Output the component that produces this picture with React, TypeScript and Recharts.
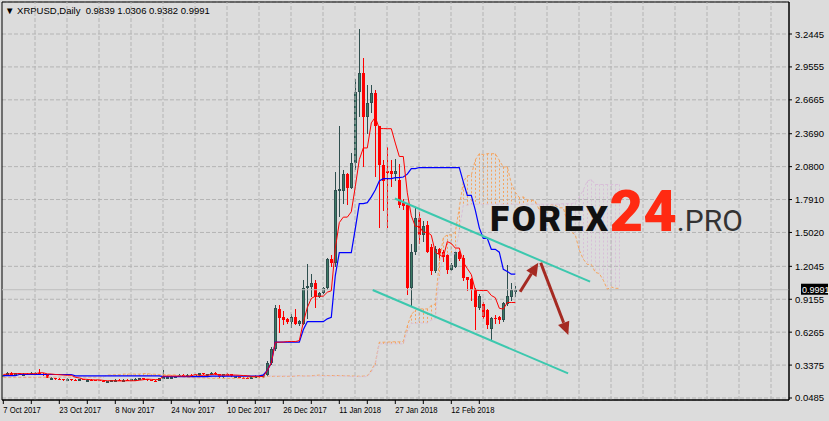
import React from 'react';
import { ComposedChart, Bar, Line, XAxis, YAxis, CartesianGrid, ReferenceLine, ReferenceArea } from 'recharts';

// daily bars, index 0 = 7 Oct 2017 (broker has 6 bars a week)
const opens = [
  0.245, 0.245, 0.272, 0.243, 0.265, 0.258, 0.262, 0.254, 0.266, 0.272,
  0.262, 0.25, 0.225, 0.225, 0.214, 0.214, 0.205, 0.215, 0.21, 0.208,
  0.212, 0.208, 0.21, 0.206, 0.204, 0.2, 0.193, 0.196, 0.205, 0.209,
  0.206, 0.21, 0.208, 0.212, 0.218, 0.224, 0.214, 0.205, 0.2, 0.198,
  0.222, 0.232, 0.234, 0.236, 0.238, 0.252, 0.25, 0.254, 0.248, 0.25,
  0.264, 0.256, 0.256, 0.27, 0.255, 0.23, 0.26, 0.255, 0.238, 0.24,
  0.228, 0.222, 0.218, 0.24, 0.244, 0.23, 0.248, 0.353, 0.476, 0.83,
  0.757, 0.74, 0.718, 0.757, 0.695, 0.7, 1.01, 1.026, 1.061, 0.938,
  0.968, 1.012, 1.269, 1.231, 1.875, 1.87, 2.015, 1.895, 2.109, 2.738,
  2.899, 2.513, 2.636, 2.729, 2.437, 2.094, 2.044, 2.04, 2.015, 1.963,
  1.763, 1.743, 1.01, 1.333, 1.626, 1.48, 1.567, 1.37, 1.166, 1.354,
  1.333, 1.304, 1.172, 1.2, 1.333, 1.28, 1.108, 1.09, 1.0, 0.836,
  0.874, 0.821, 0.65, 0.75, 0.757, 0.733, 0.874, 0.937, 0.9839,
];
const highs = [
  0.25, 0.275, 0.28, 0.268, 0.27, 0.268, 0.266, 0.275, 0.275, 0.3,
  0.266, 0.252, 0.232, 0.228, 0.22, 0.218, 0.22, 0.218, 0.216, 0.216,
  0.216, 0.214, 0.214, 0.21, 0.21, 0.205, 0.2, 0.21, 0.212, 0.214,
  0.213, 0.216, 0.214, 0.22, 0.226, 0.228, 0.218, 0.21, 0.206, 0.226,
  0.29, 0.238, 0.24, 0.242, 0.256, 0.258, 0.258, 0.26, 0.256, 0.268,
  0.268, 0.262, 0.275, 0.276, 0.262, 0.262, 0.265, 0.26, 0.245, 0.244,
  0.236, 0.23, 0.246, 0.248, 0.25, 0.252, 0.37, 0.5, 0.865, 0.862,
  0.81, 0.75, 0.786, 0.83, 0.735, 1.084, 1.225, 1.137, 1.084, 0.975,
  1.025, 1.275, 1.3, 2.035, 2.437, 2.05, 2.025, 2.2, 2.85, 3.288,
  3.036, 2.8, 2.8, 2.75, 2.44, 2.14, 2.255, 2.14, 2.15, 2.1,
  1.8, 1.76, 1.4, 1.714, 1.68, 1.6, 1.6, 1.4, 1.38, 1.365,
  1.345, 1.31, 1.23, 1.34, 1.34, 1.3, 1.115, 1.1, 1.012, 0.96,
  0.89, 0.83, 0.76, 0.78, 0.77, 0.89, 1.216, 1.06, 1.0306,
];
const lows = [
  0.24, 0.243, 0.24, 0.24, 0.255, 0.255, 0.25, 0.25, 0.262, 0.25,
  0.245, 0.22, 0.218, 0.21, 0.206, 0.2, 0.196, 0.2, 0.205, 0.2,
  0.205, 0.202, 0.204, 0.2, 0.195, 0.188, 0.183, 0.19, 0.2, 0.203,
  0.202, 0.204, 0.2, 0.205, 0.212, 0.21, 0.2, 0.196, 0.192, 0.196,
  0.22, 0.226, 0.228, 0.23, 0.234, 0.246, 0.244, 0.246, 0.242, 0.246,
  0.252, 0.248, 0.252, 0.25, 0.225, 0.225, 0.24, 0.235, 0.232, 0.22,
  0.215, 0.212, 0.214, 0.236, 0.226, 0.222, 0.24, 0.34, 0.46, 0.62,
  0.69, 0.7, 0.66, 0.69, 0.68, 0.69, 0.74, 0.938, 0.836, 0.93,
  0.96, 0.995, 1.2, 1.2, 1.64, 1.75, 1.74, 1.88, 2.05, 2.518,
  2.08, 2.37, 2.55, 1.99, 1.54, 1.69, 1.538, 1.9, 1.95, 1.72,
  1.7, 0.95, 0.856, 1.3, 1.4, 1.42, 1.32, 1.13, 1.15, 1.25,
  1.24, 1.14, 1.16, 1.19, 1.25, 1.08, 0.99, 0.9, 0.645, 0.82,
  0.74, 0.65, 0.558, 0.7, 0.7, 0.72, 0.86, 0.9, 0.9382,
];
const closes = [
  0.248, 0.272, 0.243, 0.265, 0.258, 0.262, 0.254, 0.27, 0.272, 0.255,
  0.25, 0.225, 0.228, 0.214, 0.21, 0.205, 0.215, 0.205, 0.208, 0.212,
  0.208, 0.21, 0.206, 0.204, 0.2, 0.193, 0.196, 0.205, 0.209, 0.206,
  0.21, 0.208, 0.212, 0.218, 0.224, 0.214, 0.205, 0.2, 0.198, 0.222,
  0.232, 0.234, 0.236, 0.238, 0.252, 0.25, 0.254, 0.248, 0.252, 0.264,
  0.256, 0.258, 0.27, 0.255, 0.23, 0.26, 0.244, 0.238, 0.24, 0.225,
  0.218, 0.219, 0.24, 0.244, 0.23, 0.248, 0.353, 0.476, 0.839, 0.753,
  0.733, 0.718, 0.757, 0.695, 0.725, 1.012, 1.032, 1.056, 0.938, 0.968,
  1.017, 1.269, 1.231, 1.875, 1.885, 2.015, 1.895, 2.109, 2.738, 2.899,
  2.513, 2.636, 2.729, 2.437, 2.09, 1.954, 2.021, 2.015, 2.044, 1.743,
  1.734, 1.01, 1.333, 1.626, 1.48, 1.56, 1.333, 1.16, 1.354, 1.313,
  1.284, 1.172, 1.216, 1.333, 1.266, 1.099, 1.084, 1.0, 0.85, 0.944,
  0.762, 0.69, 0.748, 0.74, 0.733, 0.88, 0.944, 0.997, 0.9991,
];

// Ichimoku lines
const tenkan = [
  0.255, 0.258, 0.26, 0.262, 0.262, 0.262, 0.262, 0.262, 0.262, 0.27,
  0.27, 0.26, 0.259, 0.255, 0.253, 0.25, 0.248, 0.248, 0.231, 0.224,
  0.214, 0.212, 0.208, 0.208, 0.2075, 0.203, 0.2, 0.2, 0.2, 0.1985,
  0.1985, 0.2, 0.2, 0.2, 0.205, 0.209, 0.214, 0.212, 0.21, 0.21,
  0.241, 0.241, 0.241, 0.241, 0.241, 0.241, 0.241, 0.243, 0.255, 0.247,
  0.248, 0.249, 0.2545, 0.258, 0.25, 0.25, 0.25, 0.25, 0.25, 0.248,
  0.2455, 0.244, 0.2385, 0.2385, 0.2385, 0.236, 0.291, 0.356, 0.5385, 0.5385,
  0.54, 0.5435, 0.5455, 0.5435, 0.5525, 0.712, 0.8425, 0.9225, 0.9425, 0.9425,
  0.9425, 0.9775, 0.99, 1.3625, 1.5885, 1.6365, 1.6365, 1.6835, 1.905, 2.1415,
  2.244, 2.244, 2.464, 2.514, 2.414, 2.414, 2.413, 2.413, 2.287, 2.169,
  2.169, 1.85, 1.648, 1.5555, 1.5555, 1.503, 1.503, 1.478, 1.328, 1.308,
  1.285, 1.422, 1.405, 1.365, 1.365, 1.24, 1.185, 1.1325, 0.995, 0.9925,
  0.9925, 0.9925, 0.949, 0.929, 0.8365, 0.829, 0.887, 0.887, 0.887,
];
const kijun = [
  0.245, 0.245, 0.245, 0.245, 0.255, 0.255, 0.255, 0.255, 0.255, 0.255,
  0.255, 0.255, 0.255, 0.255, 0.255, 0.255, 0.255, 0.255, 0.243, 0.243,
  0.243, 0.243, 0.243, 0.243, 0.243, 0.243, 0.243, 0.243, 0.243, 0.243,
  0.243, 0.243, 0.243, 0.243, 0.243, 0.243, 0.243, 0.243, 0.243, 0.243,
  0.2365, 0.2365, 0.2365, 0.2365, 0.2365, 0.2365, 0.2365, 0.2365, 0.2365, 0.2365,
  0.2365, 0.2365, 0.24, 0.241, 0.241, 0.241, 0.241, 0.241, 0.241, 0.241,
  0.241, 0.241, 0.241, 0.241, 0.243, 0.251, 0.291, 0.356, 0.5385, 0.5385,
  0.5385, 0.5385, 0.5385, 0.5385, 0.5385, 0.648, 0.7185, 0.7185, 0.7185, 0.7185,
  0.7185, 0.7435, 0.756, 1.1235, 1.3245, 1.3245, 1.3245, 1.3245, 1.536, 1.755,
  1.755, 1.764, 1.814, 1.874, 1.954, 1.974, 1.974, 1.974, 1.984, 1.984,
  1.989, 2.014, 2.062, 2.062, 2.072, 2.072, 2.072, 2.072, 2.072, 2.072,
  2.072, 2.072, 2.072, 2.072, 2.072, 1.946, 1.828, 1.828, 1.6975, 1.5425,
  1.45, 1.45, 1.354, 1.354, 1.329, 1.179, 1.159, 1.136, 1.136,
];
// cloud runs 26 bars ahead of the last candle
const spanA = [
  0.228, 0.228, 0.228, 0.228, 0.228, 0.228, 0.228, 0.228, 0.228, 0.228,
  0.228, 0.228, 0.228, 0.232, 0.232, 0.232, 0.232, 0.232, 0.232, 0.232,
  0.232, 0.232, 0.232, 0.232, 0.232, 0.232, 0.25, 0.2515, 0.2525, 0.2535,
  0.2585, 0.2585, 0.2585, 0.2585, 0.2585, 0.2625, 0.2625, 0.2575, 0.257, 0.255,
  0.254, 0.2525, 0.2515, 0.2515, 0.237, 0.2335, 0.2285, 0.2275, 0.2255, 0.2255,
  0.2253, 0.223, 0.2215, 0.2215, 0.2215, 0.2208, 0.2208, 0.2215, 0.2215, 0.2215,
  0.224, 0.226, 0.2285, 0.2275, 0.2265, 0.2265, 0.2388, 0.2388, 0.2388, 0.2388,
  0.2388, 0.2388, 0.2388, 0.2398, 0.2458, 0.2418, 0.2423, 0.2428, 0.2473, 0.2495,
  0.2455, 0.2455, 0.2455, 0.2455, 0.2455, 0.2445, 0.2433, 0.2425, 0.2398, 0.2398,
  0.2408, 0.2435, 0.291, 0.356, 0.5385, 0.5385, 0.5393, 0.541, 0.542, 0.541,
  0.5455, 0.68, 0.7805, 0.8205, 0.8305, 0.8305, 0.8305, 0.8605, 0.873, 1.243,
  1.4565, 1.4805, 1.4805, 1.504, 1.7205, 1.9483, 1.9995, 2.004, 2.139, 2.194,
  2.184, 2.194, 2.1935, 2.1935, 2.1355, 2.0765, 2.079, 1.932, 1.855, 1.8088,
  1.8138, 1.7875, 1.7875, 1.775, 1.7, 1.69, 1.6785, 1.747, 1.7385, 1.7185,
  1.7185, 1.593, 1.5065, 1.4803, 1.3463, 1.2675, 1.2213, 1.2213, 1.1515, 1.1415,
  1.0828, 1.004, 1.023, 1.0115, 1.0115,
];
const spanB = [
  0.235, 0.235, 0.235, 0.235, 0.235, 0.235, 0.235, 0.235, 0.235, 0.235,
  0.235, 0.235, 0.235, 0.235, 0.235, 0.235, 0.235, 0.235, 0.235, 0.235,
  0.235, 0.235, 0.235, 0.235, 0.235, 0.235, 0.2415, 0.2415, 0.2415, 0.2415,
  0.2415, 0.2415, 0.2415, 0.2415, 0.2415, 0.2415, 0.2415, 0.2415, 0.2415, 0.2415,
  0.2415, 0.2415, 0.2415, 0.2415, 0.2415, 0.2415, 0.2415, 0.2415, 0.2415, 0.2415,
  0.2415, 0.2415, 0.2415, 0.2415, 0.2415, 0.2415, 0.2415, 0.2415, 0.2415, 0.2415,
  0.2415, 0.2415, 0.2415, 0.2415, 0.2415, 0.2415, 0.2415, 0.2415, 0.2415, 0.2415,
  0.2415, 0.2415, 0.2415, 0.2415, 0.2415, 0.2415, 0.2415, 0.2415, 0.2415, 0.2415,
  0.2415, 0.2415, 0.2415, 0.2415, 0.2415, 0.2415, 0.2415, 0.2365, 0.2365, 0.2365,
  0.2365, 0.2365, 0.2765, 0.3415, 0.524, 0.524, 0.524, 0.524, 0.524, 0.524,
  0.524, 0.6335, 0.704, 0.704, 0.7075, 0.7075, 0.7075, 0.7325, 0.745, 1.1125,
  1.3135, 1.3135, 1.3135, 1.3145, 1.521, 1.74, 1.742, 1.75, 1.75, 1.75,
  1.75, 1.75, 1.75, 1.75, 1.75, 1.75, 1.75, 1.75, 1.75, 1.75,
  1.75, 1.75, 1.75, 1.75, 1.75, 1.75, 1.75, 1.75, 1.75, 1.751,
  1.755, 1.755, 1.755, 1.764, 1.814, 1.874, 1.954, 1.9665, 1.923, 1.923,
  1.923, 1.923, 1.923, 1.923, 1.923,
];

const priceTicks = [0.0485, 0.3375, 0.6265, 0.9155, 1.2045, 1.502, 1.791, 2.08, 2.369, 2.6665, 2.9555, 3.2445];
const dateLabels = ['7 Oct 2017', '23 Oct 2017', '8 Nov 2017', '24 Nov 2017', '10 Dec 2017', '26 Dec 2017', '11 Jan 2018', '27 Jan 2018', '12 Feb 2018'];
const lastPrice = 0.9991;

// hand-drawn objects (bar index, price)
const upperChannel = [{ x: 97.9, y: 1.8 }, { x: 146.7, y: 1.07 }];
const lowerChannel = [{ x: 92.35, y: 0.997 }, { x: 141.2, y: 0.2645 }];
const arrowUp = [{ x: 129.2, y: 0.982 }, { x: 133.75, y: 1.2365 }];
const arrowDown = [{ x: 134.35, y: 1.2365 }, { x: 141.25, y: 0.602 }];

const X_DOMAIN: [number, number] = [-0.325, 196.425];
const Y_DOMAIN: [number, number] = [0.0309, 3.5255];
const FONT = "'Liberation Sans', Arial, sans-serif";

const rows = spanA.map((a, i) => {
  const b = spanB[i];
  const hasBar = i < closes.length;
  return {
    i,
    range: hasBar ? [lows[i], highs[i]] : undefined,
    open: hasBar ? opens[i] : undefined,
    high: hasBar ? highs[i] : undefined,
    low: hasBar ? lows[i] : undefined,
    close: hasBar ? closes[i] : undefined,
    tenkan: hasBar ? tenkan[i] : undefined,
    kijun: hasBar ? kijun[i] : undefined,
    spanA: a,
    spanB: b,
    cloud: [Math.min(a, b), Math.max(a, b)],
    cloudUp: a >= b,
  };
});

const tickBars = dateLabels.flatMap((_, k) => [14 * k, 14 * k + 7]);
const gridBars = Array.from({ length: 24 }, (_, k) => 7.925 + 8 * k);

const Candle = (props: any) => {
  const { x, y, width, height, payload } = props;
  if (!payload || payload.high == null) return null;
  const { open, close, high, low } = payload;
  const cx = Math.round(x + width / 2) + 0.5;
  const span = high - low || 1e-6;
  const py = (p: number) => y + ((high - p) / span) * height;
  const up = close >= open;
  const top = Math.round(py(Math.max(open, close)));
  const bot = Math.round(py(Math.min(open, close)));
  const h = Math.max(bot - top, 1);
  return (
    <g shapeRendering="crispEdges">
      <line x1={cx} x2={cx} y1={y} y2={y + height} stroke={up ? '#2F4F4F' : '#FF0000'} strokeWidth={1} />
      {up ? (
        <rect x={cx - 1} y={top + 0.5} width={2} height={Math.max(h - 1, 0.5)} fill="#3B7A64" stroke="#2F4F4F" strokeWidth={1} />
      ) : (
        <rect x={cx - 1.5} y={top} width={3} height={h} fill="#FF0000" />
      )}
    </g>
  );
};

const CloudHatch = (props: any) => {
  const { x, y, width, height, payload } = props;
  if (!payload || height < 1) return null;
  const cx = Math.round(x + width / 2) + 0.5;
  return (
    <line x1={cx} x2={cx} y1={y} y2={y + height}
      stroke={payload.cloudUp ? '#F4A460' : '#D8BFD8'} strokeWidth={1} strokeDasharray="2 2" />
  );
};

const DateTick = (props: any) => {
  const { x, y, payload } = props;
  const k = payload.value / 14;
  const label = Number.isInteger(k) ? dateLabels[k] : null;
  return (
    <g>
      <line x1={x} x2={x} y1={y} y2={y + 4} stroke="#000" />
      {label && (
        <text transform={`translate(${x},${y + 13}) scale(0.81,1)`} fontSize={9.5} fontFamily={FONT} fill="#000" textAnchor="start">
          {label}
        </text>
      )}
    </g>
  );
};

const PriceTick = (props: any) => {
  const { x, y, payload } = props;
  return (
    <g>
      <line x1={x} x2={x + 3} y1={y} y2={y} stroke="#000" />
      <text x={x + 6} y={y + 3.5} fontSize={9.5} fontFamily={FONT} fill="#000" textAnchor="start">
        {payload.value.toFixed(4)}
      </text>
    </g>
  );
};

const PriceTag = (props: any) => {
  const { viewBox } = props;
  const right = viewBox.x + viewBox.width;
  const cy = viewBox.y;
  return (
    <g>
      <rect x={right + 12} y={cy - 6} width={27} height={11} fill="#000" />
      <text x={right + 13} y={cy + 3} fontSize={9} fontFamily={FONT} fill="#fff">{lastPrice.toFixed(4)}</text>
    </g>
  );
};

const Arrow = (props: any) => {
  const { x1, y1, x2, y2 } = props;
  const ang = Math.atan2(y2 - y1, x2 - x1);
  const len = 13;
  const half = 6;
  const bx = x2 - len * Math.cos(ang);
  const by = y2 - len * Math.sin(ang);
  const px = -Math.sin(ang) * half;
  const py = Math.cos(ang) * half;
  return (
    <g>
      <line x1={x1} y1={y1} x2={bx} y2={by} stroke="#A52A22" strokeWidth={3} />
      <polygon points={`${x2},${y2} ${bx + px},${by + py} ${bx - px},${by - py}`} fill="#A52A22" />
    </g>
  );
};

export default function App() {
  return (
    <div style={{ position: 'absolute', left: 0, top: 0, width: 829, height: 421, background: '#DCDCDC', overflow: 'hidden' }}>
      <ComposedChart width={829} height={421} data={rows} margin={{ top: 2, right: 0, bottom: 0, left: 2 }}>
        <CartesianGrid vertical={false} stroke="#B4B4B4" strokeDasharray="4 2" />
        {gridBars.map((g) => (
          <ReferenceLine key={g} x={g} stroke="#B4B4B4" strokeDasharray="4 2" />
        ))}
        <XAxis dataKey="i" type="number" domain={X_DOMAIN} allowDataOverflow ticks={tickBars} interval={0}
          tick={<DateTick />} tickLine={false} tickSize={0} tickMargin={0} axisLine={{ stroke: '#000' }} height={21} />
        <XAxis xAxisId="hatch" dataKey="i" type="number" domain={X_DOMAIN} allowDataOverflow hide />
        <YAxis orientation="right" type="number" domain={Y_DOMAIN} allowDataOverflow ticks={priceTicks} interval={0}
          tick={<PriceTick />} tickLine={false} tickSize={0} tickMargin={0} axisLine={{ stroke: '#000' }} width={40} />
        <ReferenceLine y={lastPrice} stroke="#BEBEBE" label={<PriceTag />} />
        <Bar xAxisId="hatch" dataKey="cloud" barSize={1} shape={(p: any) => <CloudHatch {...p} />} isAnimationActive={false} />
        <Line dataKey="spanA" stroke="#F4A460" strokeWidth={1} strokeDasharray="3 2" dot={false} isAnimationActive={false} />
        <Line dataKey="spanB" stroke="#D8BFD8" strokeWidth={1} strokeDasharray="3 2" dot={false} isAnimationActive={false} />
        <Bar dataKey="range" barSize={3} shape={(p: any) => <Candle {...p} />} isAnimationActive={false} />
        <Line dataKey="kijun" stroke="#0000FF" strokeWidth={1.2} dot={false} isAnimationActive={false} />
        <Line dataKey="tenkan" stroke="#FF0000" strokeWidth={1} dot={false} isAnimationActive={false} />
        <ReferenceLine segment={upperChannel} stroke="#3CC8AE" strokeWidth={2} />
        <ReferenceLine segment={lowerChannel} stroke="#3CC8AE" strokeWidth={2} />
        <ReferenceLine segment={arrowUp} shape={(p: any) => <Arrow {...p} />} />
        <ReferenceLine segment={arrowDown} shape={(p: any) => <Arrow {...p} />} />
        <ReferenceArea x1={X_DOMAIN[0]} x2={X_DOMAIN[1]} y1={Y_DOMAIN[0]} y2={Y_DOMAIN[1]} fill="none" stroke="#000" strokeWidth={1} />
      </ComposedChart>
      <svg width={829} height={421} style={{ position: 'absolute', left: 0, top: 0, pointerEvents: 'none' }}>
        <text x={5} y={14} fontSize={9.5} fontFamily={FONT} fill="#000" xmlSpace="preserve">
          {'\u25BC XRPUSD,Daily  0.9839 1.0306 0.9382 0.9991'}
        </text>
        <text x={490} y={231} fontFamily="Roboto, 'Open Sans', sans-serif">
          <tspan fontSize={35} fontWeight={900} fill="#111" letterSpacing={2.5}>FOREX</tspan>
          <tspan fontSize={58} fontWeight={900} fill="#FF2A12" dx={-1}>24</tspan>
          <tspan fontSize={30} fontWeight={400} fill="#333">.PRO</tspan>
        </text>
      </svg>
    </div>
  );
}
